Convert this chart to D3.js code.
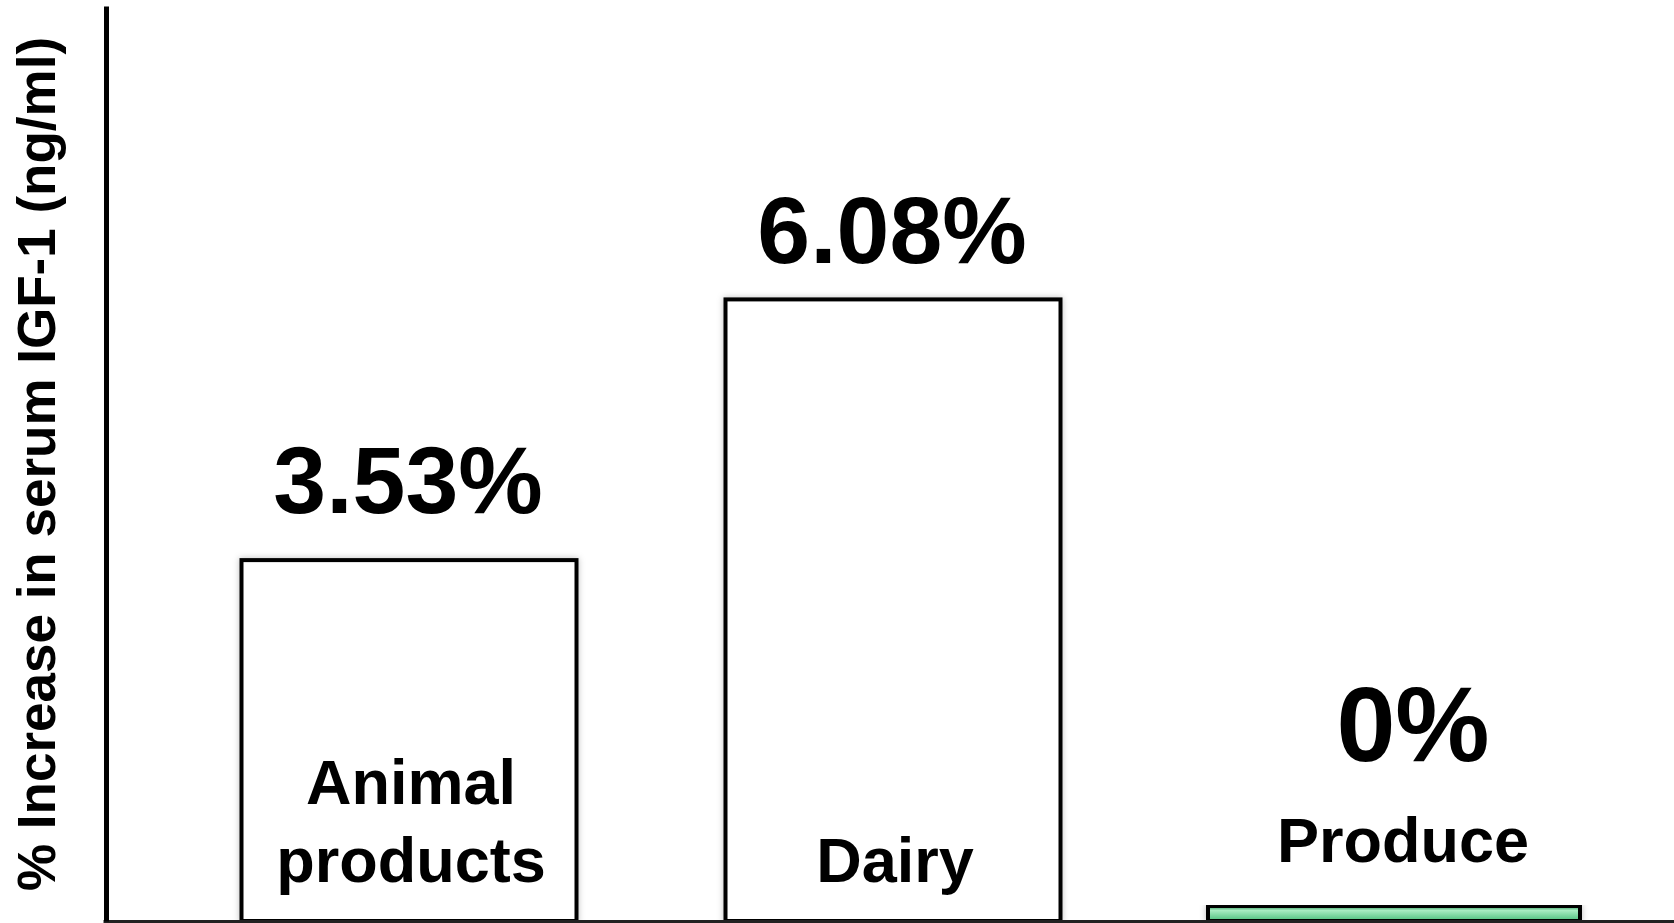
<!DOCTYPE html>
<html>
<head>
<meta charset="utf-8">
<script src="https://cdn.jsdelivr.net/npm/d3@7/dist/d3.min.js"></script>
<style>
  html, body { margin: 0; padding: 0; background: #fff; }
  svg { display: block; }
  text { font-family: "Liberation Sans", Arial, sans-serif; font-weight: bold; fill: #000; }
</style>
</head>
<body>
<svg id="chart" width="1674" height="923"></svg>
<script>
// Percent increase in serum IGF-1 by food group
const categories = ["Animal products", "Dairy", "Produce"];
const categoryLines = [["Animal", "products"], ["Dairy"], ["Produce"]];
const values = [3.53, 6.08, 0];
const valueLabels = ["3.53%", "6.08%", "0%"];
const yAxisTitle = "% Increase in serum IGF-1 (ng/ml)";

// Layout
const W = 1674, H = 923;
const baseY = 921, topY = 6, axisX = 106;
const barCenters = [409, 893, 1394];
const barWidths = [335, 335, 372];
const minStub = 15;              // keeps a zero-height bar visible as a thin strip
const valueGap = [47, 36, 0];
const valueSize = [95, 95, 106];

const svg = d3.select("#chart");

const defs = svg.append("defs");
const grad = defs.append("linearGradient")
  .attr("id", "greenFill").attr("x1", 0).attr("y1", 0).attr("x2", 0).attr("y2", 1);
grad.append("stop").attr("offset", "0%").attr("stop-color", "#2f9a5c");
grad.append("stop").attr("offset", "30%").attr("stop-color", "#a8ecc2");
grad.append("stop").attr("offset", "100%").attr("stop-color", "#4cbf7c");

const shadow = defs.append("filter").attr("id", "soft")
  .attr("x", "-5%").attr("y", "-5%").attr("width", "110%").attr("height", "110%");
shadow.append("feDropShadow").attr("dx", 0).attr("dy", 0)
  .attr("stdDeviation", 3).attr("flood-color", "#000").attr("flood-opacity", 0.25);

const x = d3.scaleOrdinal().domain(categories).range(barCenters);
const y = d3.scaleLinear().domain([0, 8.95]).range([baseY, topY]);

const data = categories.map((c, i) => ({ c, v: values[i], i }));

// Bars
svg.append("g").selectAll("rect").data(data).join("rect")
  .attr("x", d => x(d.c) - barWidths[d.i] / 2)
  .attr("width", d => barWidths[d.i])
  .attr("y", d => Math.min(y(d.v), y(0) - minStub))
  .attr("height", d => Math.max(y(0) - y(d.v), minStub))
  .attr("fill", d => d.v === 0 ? "url(#greenFill)" : "#fff")
  .attr("stroke", "#000")
  .attr("stroke-width", 4)
  .attr("filter", "url(#soft)");

// X axis baseline
const xAxis = d3.axisBottom(d3.scaleLinear().domain([0, 1]).range([axisX - 3, W]))
  .tickValues([]).tickSizeOuter(0);
svg.append("g").attr("transform", `translate(0,${baseY})`).call(xAxis)
  .select(".domain").attr("stroke", "#222").attr("stroke-width", 3);

// Y axis line
const yAxis = d3.axisLeft(y).tickValues([]).tickSizeOuter(0);
svg.append("g").attr("transform", `translate(${axisX},0)`).call(yAxis)
  .select(".domain").attr("stroke", "#000").attr("stroke-width", 5);

// Value labels
svg.append("g").selectAll("text").data(data).join("text")
  .attr("x", d => x(d.c) + (d.v === 0 ? 19 : -1))
  .attr("y", d => d.v === 0 ? y(0) - 160 : y(d.v) - valueGap[d.i])
  .attr("text-anchor", "middle")
  .attr("font-size", d => valueSize[d.i])
  .text(d => valueLabels[d.i]);

// Category labels
const catG = svg.append("g");
data.forEach(d => {
  const lines = categoryLines[d.i];
  const last = d.v === 0 ? y(0) - 59 : 882;
  const t = catG.append("text")
    .attr("text-anchor", "middle")
    .attr("font-size", 63);
  lines.forEach((ln, k) => {
    t.append("tspan")
      .attr("x", x(d.c) + (d.v === 0 ? 9 : 2))
      .attr("y", last - (lines.length - 1 - k) * 78)
      .text(ln);
  });
});

// Y axis title
svg.append("text")
  .attr("transform", "translate(55,464) rotate(-90)")
  .attr("text-anchor", "middle")
  .attr("font-size", 53)
  .text(yAxisTitle);
</script>
</body>
</html>
